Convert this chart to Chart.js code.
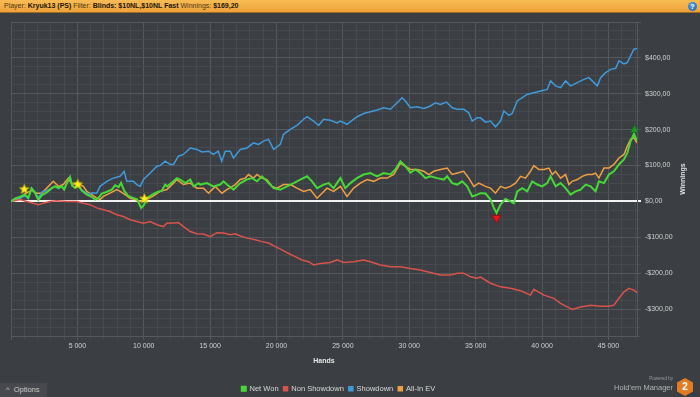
<!DOCTYPE html>
<html><head><meta charset="utf-8">
<script src="https://cdn.jsdelivr.net/npm/chart.js@4.4.1/dist/chart.umd.min.js"></script>
<style>
html,body{margin:0;padding:0;background:#3b3e43;width:700px;height:397px;overflow:hidden;font-family:"Liberation Sans",Arial,sans-serif}
#wrap{position:relative;width:700px;height:397px}
canvas{position:absolute;left:0;top:0}
#hdr{position:absolute;left:0;top:0;width:700px;height:12px;background:linear-gradient(#f8bc55,#eea23b);border-bottom:1px solid #a06c22;font-size:7px;line-height:12px;color:#4d3714;padding-left:4px;white-space:nowrap}
#hdr b{color:#20170a}
#help{position:absolute;left:688px;top:2px;width:9px;height:9px;border-radius:50%;background:radial-gradient(circle at 40% 35%,#5aa0e0,#1d5ea8);color:#fff;font:bold 7px "Liberation Sans";text-align:center;line-height:9px}
#opt{position:absolute;left:0;top:383px;width:47px;height:14px;background:#47494e;color:#c9c9c9;font-size:7.5px;line-height:14px;box-sizing:border-box;padding-left:6px}
#pw{position:absolute;left:630px;top:376px;width:43px;text-align:right;color:#9a9a9a;font-size:4.5px}
#hm{position:absolute;left:590px;top:383px;width:83px;text-align:right;color:#b3b3b3;font-size:7.5px;line-height:9px}
#hex{position:absolute;left:677px;top:378px;width:16px;height:18px;background:#e27b22;clip-path:polygon(50% 0,100% 25%,100% 75%,50% 100%,0 75%,0 25%);color:#fff;font:bold 10px "Liberation Sans";text-align:center;line-height:18px}
</style></head>
<body><div id="wrap">
<canvas id="c" width="700" height="397"></canvas>
<div id="hdr">Player: <b>Kryuk13 (PS)</b> Filter: <b>Blinds: $10NL,$10NL Fast</b> Winnings: <b>$169,20</b></div>
<div id="help">?</div>
<div id="opt">^&nbsp;&nbsp;Options</div>
<div id="pw">Powered by</div>
<div id="hm">Hold'em Manager</div>
<div id="hex">2</div>
</div>
<script>
// ---- data (hands, winnings in $) ----
const seriesNames = ['Net Won', 'Non Showdown', 'Showdown', 'All-In EV'];
const seriesColors = ['#46d936', '#d9534c', '#3f9ada', '#f0a043'];
const xTitle = 'Hands';
const yTitle = 'Winnings';

const netWonHands = [0,300,680,1060,1300,1550,1810,2060,2310,2690,3070,3320,3570,3820,4000,4220,4450,4600,4830,5070,5330,5710,6080,6330,6580,6840,7090,7590,7840,8110,8290,8520,8840,9200,9500,9800,10030,10250,10610,10990,11360,11610,11760,12240,12490,12740,13120,13500,13750,14120,14250,14760,15250,15760,16010,16260,16760,17270,17770,18150,18530,18900,19280,19780,20280,20790,21290,21790,22300,22670,23050,23550,23920,24300,24810,25180,25560,26060,26560,27070,27570,28070,28580,28950,29330,29710,30080,30460,30840,31220,31590,32100,32600,32850,33230,33610,33980,34360,34740,35120,35360,35740,36120,36370,36570,36870,37240,37620,37870,38130,38510,38880,39260,39640,40010,40390,40640,41020,41390,41770,42150,42520,42900,43280,43650,44030,44280,44660,45040,45410,45790,46170,46420,46670,46920,47150];
const netWonValues = [0,8,13,19,10,36,24,4,17,25,37,42,38,42,33,52,68,44,38,44,30,19,13,5,9,22,25,33,45,40,52,30,15,10,6,-18,-9,10,18,26,30,47,42,56,65,61,51,61,42,51,47,51,42,47,56,47,33,51,61,65,56,70,56,37,33,42,51,61,70,56,37,47,51,37,65,37,51,65,75,79,70,79,75,89,112,98,80,89,79,65,70,65,61,70,51,47,56,42,14,19,23,22,5,-18,-32,-9,7,0,-5,28,37,28,56,47,42,51,70,42,51,37,19,28,33,47,42,28,56,51,75,84,103,117,135,168,188,169];

const nonShowdownHands = [0,680,1180,1680,2060,2440,2940,3450,4200,4950,5450,5960,6460,6960,7460,7970,8470,8970,9480,9980,10480,10990,11480,11740,12240,12610,12990,13500,14000,14500,15000,15510,16010,16510,16890,17400,17890,18400,18900,19400,19910,20410,20910,21410,21920,22420,22790,23300,24050,24560,25060,25810,26560,27070,27820,28580,29330,30080,30840,31590,32350,33100,33610,34100,34610,35110,35360,36120,36870,37620,38380,39130,39380,40140,40890,41390,41900,42280,42900,43660,44410,45040,45410,45790,46170,46550,46920,47150];
const nonShowdownValues = [0,5,0,-5,-9,-5,0,2,0,0,-5,-9,-18,-23,-28,-37,-42,-51,-56,-61,-56,-65,-70,-61,-60,-59,-70,-84,-90,-91,-98,-87,-88,-93,-90,-98,-103,-107,-112,-116,-126,-135,-145,-154,-163,-168,-177,-173,-170,-163,-170,-168,-163,-168,-177,-182,-182,-187,-191,-198,-205,-205,-200,-200,-210,-214,-211,-228,-238,-242,-249,-261,-245,-261,-270,-284,-294,-301,-294,-289,-292,-292,-289,-270,-252,-242,-247,-254];

const showdownHands = [0,300,680,1060,1300,1550,1810,2060,2310,2690,3070,3320,3570,3820,4000,4220,4450,4600,4830,5070,5330,5830,6110,6460,6710,7220,7710,8220,8520,8720,9220,9480,9730,9980,10480,10990,11230,11610,11990,12240,12610,12990,13500,14000,14380,14880,15250,15610,15870,16140,16510,16760,17270,17770,18270,18650,19020,19400,19780,20280,20530,21040,21540,22040,22300,22790,23170,23550,24050,24560,24810,25310,25690,26070,26560,27070,27570,28070,28580,29080,29460,29710,30080,30590,31090,31590,31970,32350,32800,33230,33610,34100,34480,34740,35110,35360,35740,36120,36490,36870,37120,37500,37750,38130,38510,38880,39380,39890,40390,40640,41020,41390,41770,42150,42650,43150,43530,43910,44160,44410,44790,45170,45550,45790,46170,46420,46670,46920,47150];
const showdownValues = [0,8,8,16,8,38,26,9,26,30,37,42,36,42,33,52,68,44,38,44,32,19,24,23,42,56,65,70,84,56,56,47,42,61,79,98,100,112,103,103,126,131,149,145,138,140,131,140,112,140,140,121,145,149,163,159,168,173,145,159,187,201,212,229,236,224,212,229,226,219,224,215,226,236,245,250,255,261,257,275,289,280,261,264,259,266,275,270,277,261,257,257,247,224,233,233,221,224,208,224,252,240,245,280,289,298,303,308,312,336,322,317,336,322,331,340,345,331,322,345,359,368,371,392,383,387,406,424,426];

const allInEvHands = [0,680,1060,1560,1940,2310,2690,3190,3570,3940,4320,4580,4950,5450,5710,6080,6460,6710,6960,7460,7970,8220,8600,8970,9350,9730,10230,10700,11230,11740,12240,12490,12990,13500,14000,14500,14880,15380,15890,16260,16890,17270,17640,17890,18270,18530,18900,19280,19660,20030,20530,21040,21540,22040,22540,23050,23430,23800,24300,24810,25310,25810,26310,26820,27320,27820,28330,28830,29330,29710,30080,30590,31090,31470,31840,32350,32850,33230,33610,34100,34480,34860,35230,35740,36120,36490,36870,37240,37620,38000,38380,38750,39130,39380,39760,40140,40510,40770,41020,41390,41770,42020,42270,42650,43030,43400,43780,44030,44280,44660,45040,45410,45790,46170,46420,46670,46920,47150];
const allInEvValues = [0,9,22,31,23,23,37,56,42,47,65,47,51,42,28,19,9,5,14,23,33,28,19,9,5,0,5,15,28,33,51,61,47,51,37,37,23,42,23,33,47,61,65,75,65,75,65,61,42,37,47,47,37,28,33,9,23,37,28,42,14,37,51,61,56,65,65,75,107,98,89,89,84,75,84,89,93,75,79,84,65,42,51,42,37,23,42,37,42,51,70,65,84,100,89,89,93,75,84,65,75,47,56,61,70,75,75,79,65,93,93,103,121,131,154,173,177,163];

// event markers
const starHands = [1000, 5030, 10050];
const starValues = [35, 49, 9];
const lowHands = [36570];
const lowValues = [-46];
const highHands = [46970];
const highValues = [199];

// axis settings
const xMax = 47150, xStep = 1000, xMajor = 5000;
const yMin = -375, yMax = 500, yStep = 25, yMajor = 100;

// ---- helpers ----
const pts = (h, v) => h.map((x, i) => ({x: x, y: v[i]}));
const fmtHands = v => Math.floor(v / 1000) + ' ' + String(v % 1000).padStart(3, '0');
const fmtMoney = v => (v < 0 ? '-$' : '$') + Math.abs(v) + ',00';
const xTickValues = [];
for (let v = 0; v <= xMax; v += xStep) xTickValues.push(v);

function starImage() {
  const c = document.createElement('canvas');
  c.width = 11; c.height = 11;
  const g = c.getContext('2d');
  g.beginPath();
  for (let i = 0; i < 10; i++) {
    const r = i % 2 === 0 ? 5.2 : 2.2;
    const a = -Math.PI / 2 + i * Math.PI / 5;
    const px = 5.5 + r * Math.cos(a), py = 6 + r * Math.sin(a);
    i === 0 ? g.moveTo(px, py) : g.lineTo(px, py);
  }
  g.closePath();
  g.fillStyle = '#fff31a';
  g.fill();
  g.strokeStyle = '#c9b400';
  g.lineWidth = 0.6;
  g.stroke();
  return c;
}

const lineSets = [
  [netWonHands, netWonValues],
  [nonShowdownHands, nonShowdownValues],
  [showdownHands, showdownValues],
  [allInEvHands, allInEvValues]
].map((s, i) => ({
  label: seriesNames[i],
  data: pts(s[0], s[1]),
  borderColor: seriesColors[i],
  backgroundColor: seriesColors[i],
  borderWidth: i === 0 ? 2 : 1.5,
  pointRadius: 0,
  tension: 0,
  fill: false,
  order: i + 1
}));

const markerSets = [
  {label: 'stars', data: pts(starHands, starValues), showLine: false, pointStyle: starImage(), pointRadius: 5, order: 0},
  {label: 'low', data: pts(lowHands, lowValues), showLine: false, pointStyle: 'triangle', rotation: 180, pointRadius: 5, backgroundColor: '#e8141a', borderColor: '#a00000', borderWidth: 0.6, order: 0},
  {label: 'high', data: pts(highHands, highValues), showLine: false, pointStyle: 'triangle', pointRadius: 5, backgroundColor: '#149a22', borderColor: '#0b6a14', borderWidth: 0.6, order: 0}
];

const MAJOR = '#55585d', MINOR = '#46494e';

const adjustPlugin = {
  id: 'adjust',
  afterLayout(chart) {
    const l = chart.legend;
    if (l) { l.left -= 17; l.right -= 17; l.top += 5.5; l.bottom += 5.5; }
  },
  afterDraw(chart) {
    const {ctx, chartArea} = chart;
    ctx.save();
    ctx.translate(chart.scales.y.right - 17, (chartArea.top + chartArea.bottom) / 2);
    ctx.rotate(-Math.PI / 2);
    ctx.font = 'bold 7px "Liberation Sans"';
    ctx.fillStyle = '#e2e2e2';
    ctx.textAlign = 'center';
    ctx.textBaseline = 'middle';
    ctx.fillText(yTitle, 0, 0);
    ctx.restore();
  }
};

new Chart(document.getElementById('c'), {
  type: 'line',
  data: {datasets: lineSets.concat(markerSets)},
  options: {
    responsive: false,
    animation: false,
    events: [],
    layout: {padding: {top: 22, left: 11, right: 0, bottom: 0}},
    plugins: {
      tooltip: {enabled: false},
      legend: {
        position: 'bottom',
        labels: {
          filter: item => item.datasetIndex < 4,
          font: {family: 'Liberation Sans', size: 7.5},
          color: '#d8d8d8',
          boxWidth: 4,
          boxHeight: 4,
          padding: 5
        }
      }
    },
    scales: {
      x: {
        type: 'linear',
        min: 0,
        max: xMax,
        afterBuildTicks: s => { s.ticks = xTickValues.map(v => ({value: v})); },
        afterFit: s => { s.height = 38.5; s.paddingLeft = 0; s.paddingRight = 0; },
        ticks: {
          autoSkip: false,
          maxRotation: 0,
          padding: 2,
          color: '#d0d0d0',
          font: {family: 'Liberation Sans', size: 7},
          callback: v => (v > 0 && v % xMajor === 0) ? fmtHands(v) : ''
        },
        grid: {
          color: c => (c.tick && c.tick.value % xMajor === 0) ? MAJOR : MINOR,
          tickLength: 4,
          lineWidth: 1
        },
        border: {color: MAJOR},
        title: {
          display: true,
          text: xTitle,
          color: '#e6e6e6',
          font: {family: 'Liberation Sans', size: 7, weight: 'bold'},
          padding: {top: 4, bottom: 9}
        }
      },
      y: {
        position: 'right',
        min: yMin,
        max: yMax,
        afterFit: s => { s.width = 63; s.paddingTop = 0; s.paddingBottom = 0; },
        ticks: {
          stepSize: yStep,
          autoSkip: false,
          padding: 4,
          color: '#d0d0d0',
          font: {family: 'Liberation Sans', size: 7},
          callback: v => (v % yMajor === 0 && v < yMax) ? fmtMoney(v) : ''
        },
        grid: {
          color: c => !c.tick ? MAJOR : (c.tick.value === 0 ? '#f2f2f2' : (c.tick.value % yMajor === 0 ? MAJOR : MINOR)),
          lineWidth: c => (c.tick && c.tick.value === 0) ? 2 : 1,
          tickLength: 4
        },
        border: {color: MAJOR}
      }
    }
  },
  plugins: [adjustPlugin]
});
</script>
</body></html>
